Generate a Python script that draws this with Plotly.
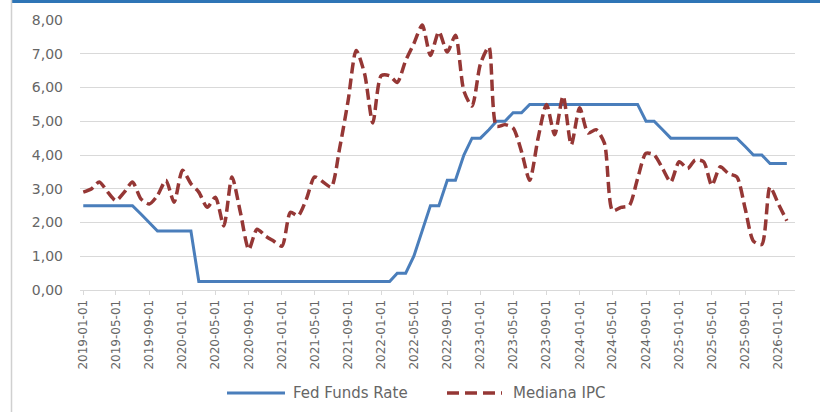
import pandas as pd
import plotly.graph_objects as go

# Monthly categories (first day of each month)
months = pd.date_range("2019-01-01", periods=86, freq="MS")

fed_funds_rate = [
    2.5, 2.5, 2.5, 2.5, 2.5, 2.5, 2.5, 2.25, 2.0, 1.75,
    1.75, 1.75, 1.75, 1.75, 0.25, 0.25, 0.25, 0.25, 0.25, 0.25,
    0.25, 0.25, 0.25, 0.25, 0.25, 0.25, 0.25, 0.25, 0.25, 0.25,
    0.25, 0.25, 0.25, 0.25, 0.25, 0.25, 0.25, 0.25, 0.5, 0.5,
    1.0, 1.75, 2.5, 2.5, 3.25, 3.25, 4.0, 4.5, 4.5, 4.75,
    5.0, 5.0, 5.25, 5.25, 5.5, 5.5, 5.5, 5.5, 5.5, 5.5,
    5.5, 5.5, 5.5, 5.5, 5.5, 5.5, 5.5, 5.5, 5.0, 5.0,
    4.75, 4.5, 4.5, 4.5, 4.5, 4.5, 4.5, 4.5, 4.5, 4.5,
    4.25, 4.0, 4.0, 3.75, 3.75, 3.75,
]

mediana_ipc = [
    2.9, 3.0, 3.2, 2.9, 2.65, 2.9, 3.2, 2.7, 2.55, 2.8,
    3.25, 2.6, 3.55, 3.15, 2.9, 2.45, 2.75, 1.9, 3.35, 2.3,
    1.2, 1.8, 1.6, 1.45, 1.3, 2.3, 2.2, 2.7, 3.35, 3.2,
    3.05, 4.2, 5.6, 7.1, 6.4, 4.95, 6.35, 6.35, 6.15, 6.8,
    7.3, 7.85, 6.95, 7.65, 7.05, 7.55, 5.9, 5.45, 6.7, 7.2,
    4.85, 4.9, 4.8, 4.1, 3.25, 4.5, 5.5, 4.6, 5.75, 4.3,
    5.4, 4.65, 4.75, 4.35, 2.35, 2.45, 2.5, 3.3, 4.05, 4.0,
    3.6, 3.2, 3.8, 3.6, 3.85, 3.8, 3.1, 3.65, 3.45, 3.35,
    2.4, 1.45, 1.35, 3.05, 2.55, 2.05,
]

tick_labels = [
    "2019-01-01", "2019-05-01", "2019-09-01", "2020-01-01", "2020-05-01",
    "2020-09-01", "2021-01-01", "2021-05-01", "2021-09-01", "2022-01-01",
    "2022-05-01", "2022-09-01", "2023-01-01", "2023-05-01", "2023-09-01",
    "2024-01-01", "2024-05-01", "2024-09-01", "2025-01-01", "2025-05-01",
    "2025-09-01", "2026-01-01",
]

series_names = ["Fed Funds Rate", "Mediana IPC"]

BLUE = "#4A7EBB"
RED = "#953735"
TXT = "#666666"
GRID = "#D9D9D9"
FONT = "DejaVu Sans, Liberation Sans, sans-serif"

fig = go.Figure()
fig.add_trace(go.Scatter(
    x=months, y=fed_funds_rate, name=series_names[0], mode="lines",
    line=dict(color=BLUE, width=3), showlegend=False,
))
fig.add_trace(go.Scatter(
    x=months, y=mediana_ipc, name=series_names[1], mode="lines",
    line=dict(color=RED, width=3.5, dash="11px,5px", shape="spline", smoothing=0.7),
    showlegend=False,
))

# plot area: x 80..795 px, y 20..290 px
def px_x(p):
    return (p - 80) / 715.0

def px_y(p):
    return (290 - p) / 270.0

shapes = [
    # frame: blue top edge, grey left edge
    dict(type="line", xref="paper", yref="paper", x0=px_x(11), x1=px_x(822),
         y0=px_y(1.5), y1=px_y(1.5), line=dict(color="#2E75B6", width=3)),
    dict(type="line", xref="paper", yref="paper", x0=px_x(11.5), x1=px_x(11.5),
         y0=px_y(0), y1=px_y(414), line=dict(color="#D0D0D0", width=1.5)),
    # legend samples
    dict(type="line", xref="paper", yref="paper", x0=px_x(227), x1=px_x(285),
         y0=px_y(393), y1=px_y(393), line=dict(color=BLUE, width=3)),
    dict(type="line", xref="paper", yref="paper", x0=px_x(447), x1=px_x(502),
         y0=px_y(393), y1=px_y(393), line=dict(color=RED, width=3.5, dash="12px,6px")),
]

annotations = [
    dict(text=series_names[0], xref="paper", yref="paper", x=px_x(291), y=px_y(393),
         xanchor="left", yanchor="middle", showarrow=False,
         font=dict(size=15, color=TXT, family=FONT)),
    dict(text=series_names[1], xref="paper", yref="paper", x=px_x(511), y=px_y(393),
         xanchor="left", yanchor="middle", showarrow=False,
         font=dict(size=15, color=TXT, family=FONT)),
]

fig.update_layout(
    width=820, height=412,
    margin=dict(l=80, r=25, t=20, b=122),
    paper_bgcolor="white", plot_bgcolor="white",
    separators=",.",
    font=dict(family=FONT, color=TXT),
    shapes=shapes, annotations=annotations,
    showlegend=False,
)

fig.update_xaxes(
    type="date",
    range=["2018-12-20", "2026-03-03"],
    tickvals=[pd.Timestamp(t) for t in tick_labels],
    ticktext=tick_labels,
    tickangle=-90,
    tickfont=dict(size=12, color=TXT, family=FONT),
    showgrid=False,
    showline=True, linecolor=GRID, linewidth=1,
    ticks="outside", ticklen=4, tickcolor=GRID,
    zeroline=False,
)

fig.update_yaxes(
    range=[0, 8], dtick=1, tick0=0,
    tickformat=".2f",
    tickfont=dict(size=14, color=TXT, family=FONT),
    showgrid=True, gridcolor=GRID, gridwidth=1,
    zeroline=False, showline=False,
    ticklabelstandoff=16,
)

fig.write_html(
    "out.html",
    config={"displayModeBar": False},
    post_script="document.body.style.margin='0';document.body.style.overflow='hidden';",
)
